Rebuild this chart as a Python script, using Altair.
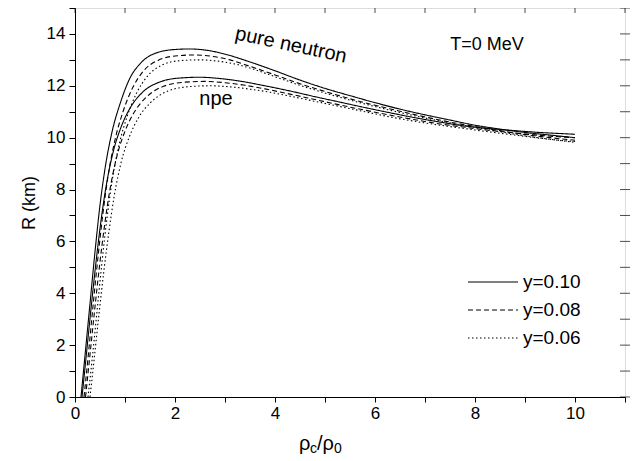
import altair as alt
import pandas as pd

# ---- data ----
pure_010_x = [0.12,0.2,0.3,0.4,0.5,0.6,0.75,0.9,1.1,1.3,1.6,2.0,2.3,2.7,3.0,3.5,4.0,4.5,5.0,5.5,6.0,6.5,7.0,7.5,8.0,8.5,9.0,9.5,10.0]
pure_010_r = [0,1.6,3.6,5.6,7.4,8.8,10.3,11.3,12.3,12.85,13.25,13.4,13.42,13.35,13.22,12.92,12.58,12.22,11.9,11.62,11.35,11.1,10.88,10.68,10.48,10.33,10.2,10.1,10.0]

pure_008_x = [0.18,0.26,0.36,0.46,0.56,0.66,0.81,0.96,1.16,1.36,1.66,2.05,2.4,2.8,3.1,3.5,4.0,4.5,5.0,5.5,6.0,6.5,7.0,7.5,8.0,8.5,9.0,9.5,10.0]
pure_008_r = [0,1.5,3.5,5.4,7.1,8.5,10.0,11.0,11.95,12.55,12.98,13.16,13.19,13.12,13.0,12.75,12.42,12.08,11.78,11.5,11.25,11.02,10.8,10.6,10.43,10.27,10.12,10.0,9.9]

pure_006_x = [0.26,0.34,0.44,0.54,0.64,0.74,0.89,1.04,1.24,1.44,1.74,2.1,2.5,2.9,3.2,3.6,4.0,4.5,5.0,5.5,6.0,6.5,7.0,7.5,8.0,8.5,9.0,9.5,10.0]
pure_006_r = [0,1.4,3.3,5.2,6.9,8.3,9.8,10.8,11.75,12.35,12.8,12.97,13.0,12.94,12.84,12.62,12.35,12.02,11.72,11.45,11.2,10.97,10.76,10.57,10.4,10.23,10.07,9.94,9.82]

npe_010_x = [0.14,0.22,0.32,0.42,0.52,0.62,0.77,0.92,1.12,1.35,1.7,2.1,2.5,2.9,3.3,3.8,4.3,4.8,5.3,5.8,6.3,6.8,7.3,7.8,8.3,8.8,9.3,9.8,10.0]
npe_010_r = [0,1.5,3.4,5.2,6.8,8.1,9.5,10.4,11.2,11.75,12.15,12.3,12.33,12.28,12.18,12.0,11.8,11.58,11.37,11.16,10.96,10.77,10.6,10.45,10.35,10.27,10.2,10.15,10.13]

npe_008_x = [0.21,0.29,0.39,0.49,0.59,0.69,0.84,0.99,1.19,1.42,1.77,2.2,2.6,3.0,3.4,3.8,4.3,4.8,5.3,5.8,6.3,6.8,7.3,7.8,8.3,8.8,9.3,9.8,10.0]
npe_008_r = [0,1.45,3.3,5.05,6.6,7.9,9.3,10.2,11.0,11.55,11.98,12.14,12.17,12.12,12.02,11.88,11.68,11.47,11.26,11.06,10.87,10.69,10.53,10.4,10.28,10.18,10.09,10.02,10.0]

npe_006_x = [0.3,0.38,0.48,0.58,0.68,0.78,0.93,1.08,1.28,1.51,1.86,2.3,2.7,3.1,3.5,3.9,4.3,4.8,5.3,5.8,6.3,6.8,7.3,7.8,8.3,8.8,9.3,9.8,10.0]
npe_006_r = [0,1.4,3.2,4.9,6.4,7.7,9.1,10.0,10.8,11.35,11.8,11.97,12.0,11.96,11.87,11.75,11.6,11.4,11.2,11.0,10.8,10.63,10.48,10.35,10.22,10.1,9.98,9.88,9.85]

series_labels = ["y=0.10", "y=0.08", "y=0.06"]
x_ticks = list(range(0, 12))
y_ticks = list(range(0, 16))

curves = [
    ("pure neutron", "y=0.10", pure_010_x, pure_010_r),
    ("pure neutron", "y=0.08", pure_008_x, pure_008_r),
    ("pure neutron", "y=0.06", pure_006_x, pure_006_r),
    ("npe", "y=0.10", npe_010_x, npe_010_r),
    ("npe", "y=0.08", npe_008_x, npe_008_r),
    ("npe", "y=0.06", npe_006_x, npe_006_r),
]
rows = []
for grp, lab, xs, rs in curves:
    for i, (xv, rv) in enumerate(zip(xs, rs)):
        rows.append({"x": xv, "R": rv, "y": lab, "curve": grp + " " + lab, "i": i})
df = pd.DataFrame(rows)

FONT = "Liberation Sans"
W, H = 550, 389
xscale = alt.Scale(domain=[0, 11], nice=False, zero=False)
yscale = alt.Scale(domain=[0, 15], nice=False, zero=False)

x_bottom = alt.X("x:Q", scale=xscale, title=None,
                 axis=alt.Axis(values=x_ticks, labelExpr="datum.value % 2 == 0 && datum.value <= 10 ? datum.label : ''",
                               grid=False, tickSize=5, labelFontSize=17, labelFont=FONT, labelColor="black",
                               labelPadding=3, domainColor="black", tickColor="black", labelFlush=False,
                               title=None))
y_left = alt.Y("R:Q", scale=yscale,
               axis=alt.Axis(values=y_ticks, labelExpr="datum.value % 2 == 0 && datum.value <= 14 ? datum.label : ''",
                             grid=False, tickSize=6, labelFontSize=17, labelFont=FONT, labelColor="black",
                             labelPadding=4, domainColor="black", tickColor="black", title="R (km)",
                             titleFontSize=18, titleFont=FONT, titleFontWeight="normal", titleColor="black",
                             titlePadding=8, labelFlush=False))

lines = alt.Chart(df).mark_line(color="black", strokeWidth=1.1, interpolate="monotone").encode(
    x=x_bottom,
    y=y_left,
    detail="curve:N",
    order="i:Q",
    strokeDash=alt.StrokeDash("y:N", scale=alt.Scale(domain=series_labels, range=[[1, 0], [5, 3], [1.5, 2.5]]),
                              legend=alt.Legend(title=None, orient="none", legendX=407, legendY=263,
                                                symbolType="M-2.5,0L2.5,0", symbolSize=400,
                                                symbolStrokeWidth=1.1, symbolFillColor="transparent",
                                                symbolStrokeColor="black", labelFontSize=19, labelFont=FONT,
                                                labelColor="black", labelOffset=19, rowPadding=7,
                                                labelLimit=200)),
)

# inward ticks on the top and right frame edges
top_ticks = alt.Chart(pd.DataFrame({"x": x_ticks})).mark_tick(color="black", size=10, thickness=1).encode(
    x=alt.X("x:Q", scale=xscale, axis=None), y=alt.value(0))
right_ticks = alt.Chart(pd.DataFrame({"R": y_ticks})).mark_tick(color="black", size=10, thickness=1).encode(
    y=alt.Y("R:Q", scale=yscale, axis=None), x=alt.value(W))

ann_pure = pd.DataFrame({"x": [4.32], "R": [13.57], "t": ["pure neutron"]})
ann_npe = pd.DataFrame({"x": [2.82], "R": [11.5], "t": ["npe"]})
ann_T = pd.DataFrame({"x": [8.24], "R": [13.57], "t": ["T=0 MeV"]})

def txt(d, size, angle=0):
    return alt.Chart(d).mark_text(fontSize=size, font=FONT, color="black", angle=angle,
                                  align="center", baseline="middle").encode(
        x=alt.X("x:Q", scale=xscale, axis=None), y=alt.Y("R:Q", scale=yscale, axis=None), text="t:N")

title_parts = pd.DataFrame({
    "t": ["ρ", "c", "/ρ", "0"],
    "px": [224, 235, 242, 259],
    "py": [H + 47, H + 52, H + 47, H + 52],
    "fs": [20, 14, 20, 14],
})
xtitle = alt.Chart(title_parts).mark_text(font=FONT, color="black", align="left", baseline="middle").encode(
    x=alt.X("px:Q", scale=None, axis=None), y=alt.Y("py:Q", scale=None, axis=None), text="t:N",
    size=alt.Size("fs:Q", scale=None, legend=None))

chart = alt.layer(
    lines, top_ticks, right_ticks,
    txt(ann_pure, 20, 12), txt(ann_npe, 20), txt(ann_T, 18),
    xtitle,
).resolve_axis(x="independent", y="independent").properties(
    width=W, height=H,
    autosize=alt.AutoSizeParams(type="none"),
    padding={"left": 67, "top": 0, "right": 10, "bottom": 60},
).configure_view(stroke="black", strokeWidth=1.2).configure(background="white")

chart.save("out.html", embed_options={"renderer": "svg", "actions": False})
